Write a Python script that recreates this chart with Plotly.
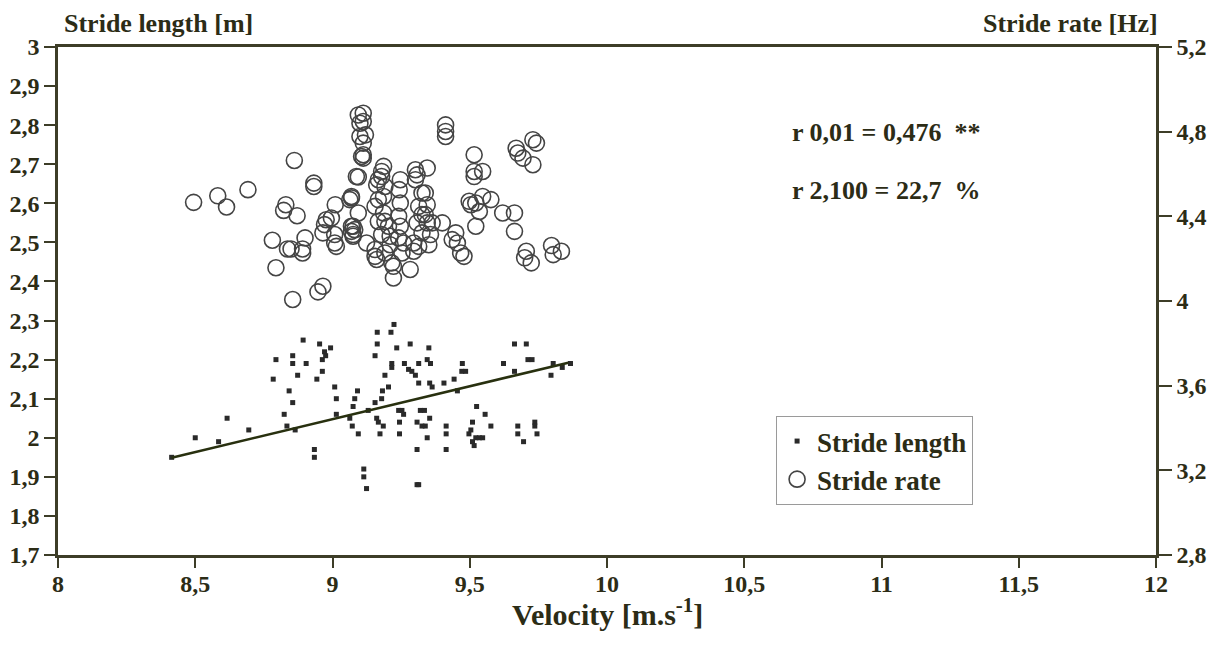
import plotly.graph_objects as go

# ---------------- data ----------------
length_x = [8.414, 8.50, 8.585, 8.616, 8.695, 8.784, 8.794, 8.824, 8.834, 8.842, 8.855, 8.855, 8.855,
            8.864, 8.873, 8.893, 8.904, 8.934, 8.934, 8.943, 8.953, 8.963, 8.963, 8.971, 8.975, 8.993,
            9.008, 9.014, 9.014, 9.063, 9.072, 9.075, 9.081, 9.091, 9.094, 9.114, 9.114, 9.124, 9.130,
            9.155, 9.155, 9.161, 9.163, 9.163, 9.167, 9.173, 9.179, 9.182, 9.185, 9.191, 9.204, 9.213,
            9.216, 9.216, 9.224, 9.234, 9.241, 9.244, 9.244, 9.253, 9.259, 9.262, 9.277, 9.283, 9.289,
            9.302, 9.308, 9.308, 9.314, 9.308, 9.314, 9.314, 9.320, 9.326, 9.335, 9.338, 9.345, 9.345,
            9.351, 9.354, 9.354, 9.357, 9.363, 9.406, 9.414, 9.414, 9.414, 9.443, 9.455, 9.471, 9.473,
            9.485, 9.497, 9.504, 9.510, 9.510, 9.516, 9.522, 9.535, 9.547, 9.525, 9.556, 9.577, 9.623,
            9.663, 9.663, 9.675, 9.675, 9.696, 9.706, 9.712, 9.727, 9.737, 9.737, 9.745, 9.796, 9.804,
            9.837, 9.867]
length_y = [1.95, 2.00, 1.99, 2.05, 2.02, 2.15, 2.20, 2.06, 2.03, 2.12, 2.09, 2.21, 2.19,
            2.02, 2.16, 2.25, 2.19, 1.97, 1.95, 2.15, 2.24, 2.17, 2.20, 2.22, 2.21, 2.23,
            2.13, 2.10, 2.06, 2.05, 2.03, 2.08, 2.10, 2.12, 2.01, 1.92, 1.90, 1.87, 2.07,
            2.21, 2.09, 2.05, 2.27, 2.24, 2.04, 2.01, 2.10, 2.12, 2.03, 2.16, 2.13, 2.27,
            2.19, 2.18, 2.29, 2.23, 2.07, 2.04, 2.01, 2.07, 2.06, 2.19, 2.175, 2.24, 2.17,
            2.16, 1.97, 1.88, 1.88, 2.04, 2.19, 2.14, 2.07, 2.03, 2.07, 2.03, 2.00, 2.20,
            2.23, 2.05, 2.14, 2.19, 2.13, 2.14, 2.03, 2.01, 1.97, 2.15, 2.12, 2.17, 2.19,
            2.17, 2.01, 2.02, 2.04, 1.99, 1.98, 2.00, 2.00, 2.00, 2.08, 2.06, 2.03, 2.19,
            2.24, 2.17, 2.03, 2.01, 1.99, 2.24, 2.20, 2.20, 2.04, 2.03, 2.01, 2.16, 2.19,
            2.18, 2.19]

rate_x = [8.494, 8.582, 8.614, 8.692, 8.861, 8.932, 8.932, 8.830, 8.822, 8.871, 8.781, 8.849, 8.836,
          8.891, 8.891, 8.900, 8.794, 8.855, 8.947, 8.965, 9.010, 9.069, 8.977, 8.996, 8.971, 8.965,
          9.008, 9.008, 9.014, 9.069, 9.081, 9.075, 9.087, 9.094, 9.100, 9.100, 9.106,
          9.112, 9.112, 9.120, 9.112, 9.112, 9.112, 9.094, 9.069, 9.063, 9.094, 9.075, 9.069, 9.075,
          9.124, 9.155, 9.155, 9.161, 9.186, 9.179, 9.179, 9.167, 9.161, 9.191, 9.167, 9.155, 9.186,
          9.186, 9.167, 9.191, 9.204, 9.179, 9.210, 9.210, 9.191, 9.216, 9.222, 9.222, 9.247, 9.243,
          9.247, 9.241, 9.247, 9.241, 9.259, 9.253, 9.283, 9.302, 9.308, 9.302, 9.345, 9.326, 9.338,
          9.314, 9.345, 9.326, 9.338, 9.308, 9.345, 9.363, 9.326, 9.357, 9.296, 9.314, 9.351, 9.296,
          9.400, 9.412, 9.412, 9.412, 9.449, 9.436, 9.455, 9.467, 9.479, 9.516, 9.516, 9.516, 9.547,
          9.498, 9.504, 9.522, 9.547, 9.577, 9.535, 9.522, 9.620, 9.663, 9.663, 9.669, 9.675, 9.694,
          9.730, 9.730, 9.743, 9.706, 9.700, 9.724, 9.798, 9.804, 9.834]
rate_y = [4.466, 4.497, 4.444, 4.526, 4.664, 4.557, 4.541, 4.455, 4.428, 4.403, 4.287, 4.246, 4.246,
          4.246, 4.227, 4.298, 4.157, 4.007, 4.043, 4.070, 4.455, 4.487, 4.384, 4.392, 4.361, 4.322,
          4.314, 4.274, 4.258, 4.353, 4.337, 4.306, 4.588, 4.879, 4.840, 4.777, 4.683,
          4.887, 4.848, 4.785, 4.746, 4.691, 4.675, 4.586, 4.494, 4.479, 4.416, 4.353, 4.329, 4.314,
          4.274, 4.243, 4.211, 4.196, 4.636, 4.612, 4.588, 4.573, 4.549, 4.541, 4.479, 4.447, 4.494,
          4.416, 4.376, 4.376, 4.353, 4.314, 4.306, 4.266, 4.227, 4.180, 4.109, 4.164, 4.573, 4.526,
          4.463, 4.400, 4.353, 4.298, 4.274, 4.227, 4.149, 4.620, 4.596, 4.573, 4.628, 4.510, 4.510,
          4.447, 4.455, 4.408, 4.408, 4.369, 4.369, 4.369, 4.322, 4.314, 4.274, 4.258, 4.266, 4.235,
          4.369, 4.801, 4.832, 4.777, 4.322, 4.290, 4.274, 4.227, 4.211, 4.691, 4.612, 4.588, 4.612,
          4.471, 4.455, 4.463, 4.494, 4.479, 4.423, 4.353, 4.416, 4.416, 4.329, 4.722, 4.699, 4.675,
          4.644, 4.762, 4.746, 4.235, 4.204, 4.180, 4.262, 4.219, 4.235]

trend_x = [8.414, 9.859]
trend_y = [1.949, 2.192]

x_ticks = [8, 8.5, 9, 9.5, 10, 10.5, 11, 11.5, 12]
x_ticklabels = ["8", "8,5", "9", "9,5", "10", "10,5", "11", "11,5", "12"]
yl_ticks = [1.7, 1.8, 1.9, 2.0, 2.1, 2.2, 2.3, 2.4, 2.5, 2.6, 2.7, 2.8, 2.9, 3.0]
yl_ticklabels = ["1,7", "1,8", "1,9", "2", "2,1", "2,2", "2,3", "2,4", "2,5", "2,6", "2,7", "2,8", "2,9", "3"]
yr_ticks = [2.8, 3.2, 3.6, 4.0, 4.4, 4.8, 5.2]
yr_ticklabels = ["2,8", "3,2", "3,6", "4", "4,4", "4,8", "5,2"]

# ---------------- style ----------------
FONT = "Liberation Serif"
TXT = "#2c2c16"
AX = "#3d3d28"

fig = go.Figure()
fig.add_trace(go.Scatter(x=length_x, y=length_y, mode="markers", name="Stride length",
                         marker=dict(symbol="square", size=5, color="#2a2a2a"), yaxis="y"))
fig.add_trace(go.Scatter(x=rate_x, y=rate_y, mode="markers", name="Stride rate",
                         marker=dict(symbol="circle-open", size=16, color="#444444",
                                     line=dict(width=1.6)), yaxis="y2"))
fig.add_trace(go.Scatter(x=trend_x, y=trend_y, mode="lines", showlegend=False,
                         line=dict(color="#28300f", width=2.6), yaxis="y"))

tickfont = dict(family=FONT, size=24, color=TXT, weight="bold")
big = dict(family=FONT, size=26, color=TXT, weight="bold")

# the page body has an 8px margin, so the figure is drawn 8px in from the window corner
fig.update_layout(
    width=1214, height=638,
    margin=dict(l=50, r=66, t=39, b=91, autoexpand=False),
    paper_bgcolor="white", plot_bgcolor="white",
    showlegend=True,
    legend=dict(x=0.654, y=0.2736, xanchor="left", yanchor="top",
                bgcolor="white", bordercolor="#9a9a9a", borderwidth=1,
                font=dict(family=FONT, size=27, color=TXT, weight="bold")),
    xaxis=dict(range=[8, 12], tickvals=x_ticks, ticktext=x_ticklabels, tickfont=tickfont,
               showline=True, linecolor=AX, linewidth=2.5, mirror=True,
               ticks="outside", ticklen=10, tickwidth=2, tickcolor=AX,
               ticklabelstandoff=-5,
               showgrid=False, zeroline=False, automargin=False),
    yaxis=dict(range=[1.7, 3.0], tickvals=yl_ticks, ticktext=yl_ticklabels, tickfont=tickfont,
               showline=True, linecolor=AX, linewidth=2.5, automargin=False,
               ticks="outside", ticklen=11, tickwidth=2, tickcolor=AX,
               showgrid=False, zeroline=False),
    yaxis2=dict(range=[2.8, 5.2], tickvals=yr_ticks, ticktext=yr_ticklabels, tickfont=tickfont,
                overlaying="y", side="right", automargin=False,
                showline=True, linecolor=AX, linewidth=2.5,
                ticks="outside", ticklen=13, tickwidth=2, tickcolor=AX,
                showgrid=False, zeroline=False),
    annotations=[
        dict(text="Velocity [m.s<sup>-1</sup>]", xref="paper", yref="paper", x=0.5, y=-0.112,
             xanchor="center", yanchor="middle", showarrow=False,
             font=dict(family=FONT, size=30, color=TXT, weight="bold")),
        dict(text="Stride length [m]", xref="paper", yref="paper", x=0.004, y=1.046,
             xanchor="left", yanchor="middle", showarrow=False, font=big),
        dict(text="Stride rate [Hz]", xref="paper", yref="paper", x=1.004, y=1.046,
             xanchor="right", yanchor="middle", showarrow=False, font=big),
        dict(text="r 0,01 = 0,476  **", xref="paper", yref="paper", x=0.667, y=0.831,
             xanchor="left", yanchor="middle", showarrow=False, font=big),
        dict(text="r 2,100 = 22,7  %", xref="paper", yref="paper", x=0.667, y=0.718,
             xanchor="left", yanchor="middle", showarrow=False, font=big),
    ],
)

fig.write_html("out.html")
